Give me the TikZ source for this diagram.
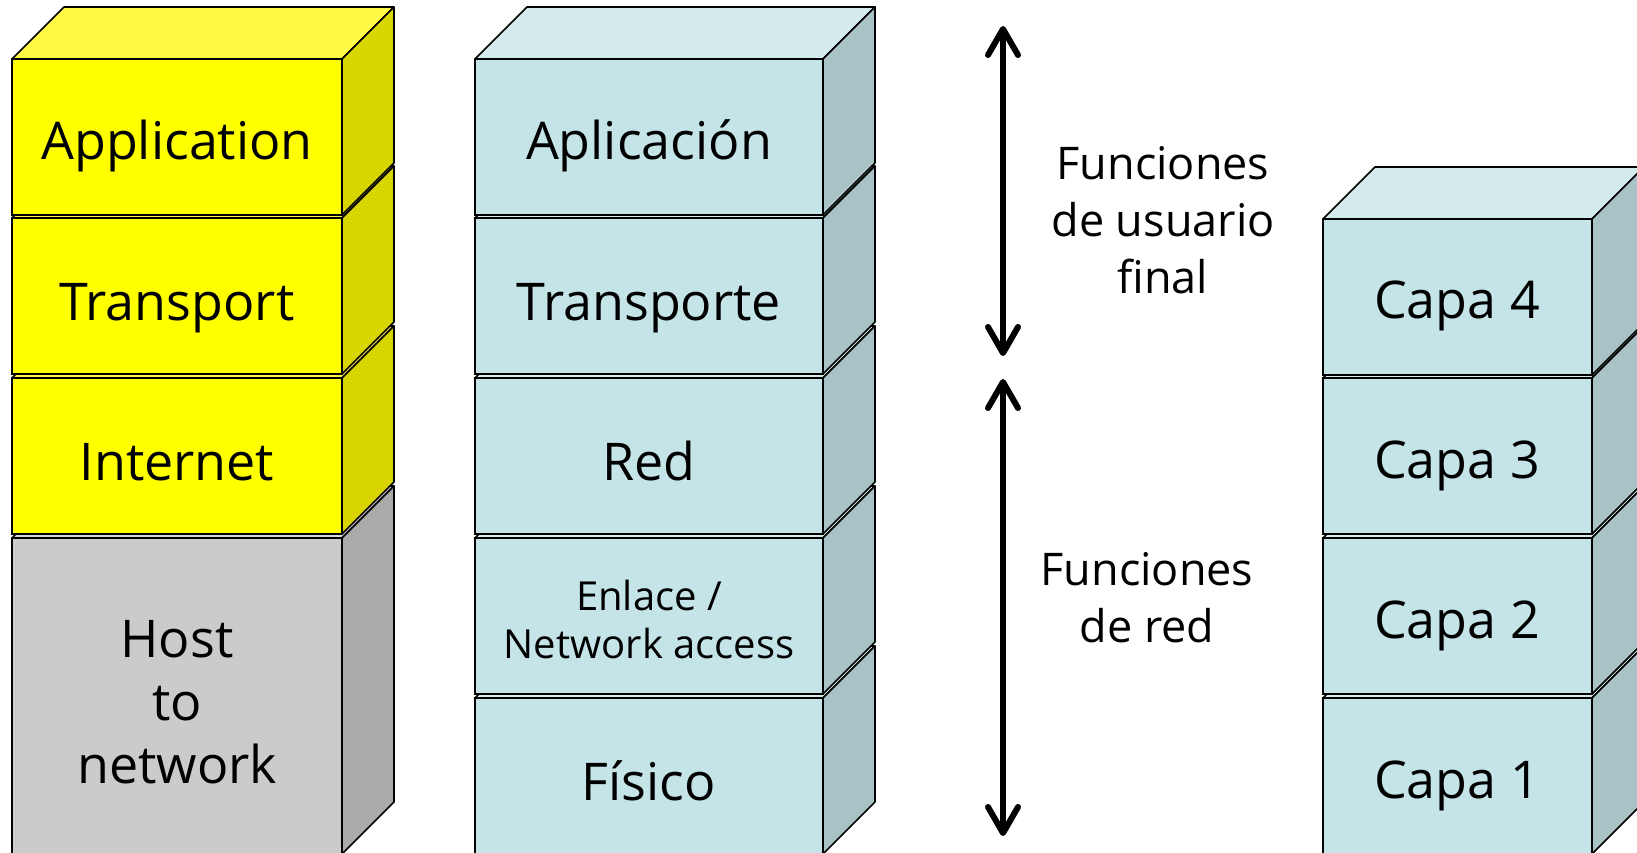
\documentclass[tikz,border=0pt]{standalone}
\usepackage{fontspec}
\setmainfont{Open Sans}
\usetikzlibrary{calc,arrows.meta}
\definecolor{yfront}{HTML}{FFFF00}
\definecolor{ytop}{HTML}{FFF844}
\definecolor{yside}{HTML}{D9D500}
\definecolor{gfront}{HTML}{CBCBCB}
\definecolor{gtop}{HTML}{DADADA}
\definecolor{gside}{HTML}{AAAAAA}
\definecolor{bfront}{HTML}{C4E4E8}
\definecolor{btop}{HTML}{D3EBED}
\definecolor{bside}{HTML}{A8C2C6}
\tikzset{
  face/.style={draw=black, line width=1.6pt, inner sep=0pt, outer sep=0pt, rectangle},
  edge/.style={draw=black, line width=1.6pt, line join=round},
  boxtxt/.style={font=\fontsize{52}{63}\selectfont, inner sep=0pt, outer sep=0pt, align=center},
  smalltxt/.style={font=\fontsize{40}{48}\selectfont, inner sep=0pt, outer sep=0pt, align=center},
  sidetxt/.style={font=\fontsize{45}{57}\selectfont, inner sep=0pt, outer sep=0pt, align=center},
  bigarrow/.style={line width=6pt, {Straight Barb[length=26pt,width=30pt,round]}-{Straight Barb[length=26pt,width=30pt,round]}}
}
\newcommand\layerbox[8]{%
  \node[face, fill=#6, minimum width=#4pt, minimum height=#5pt, anchor=north west] (#1) at (#2,#3) {};
  \draw[edge, fill=#7] (#1.north west) -- ++(52,-52) -- ($(#1.north east)+(52,-52)$) -- (#1.north east) -- cycle;
  \draw[edge, fill=#8] (#1.north east) -- ++(52,-52) -- ($(#1.south east)+(52,-52)$) -- (#1.south east) -- cycle;
}
\begin{document}
\begin{tikzpicture}[x=1pt,y=-1pt]
\useasboundingbox (0,0) rectangle (1637,853);
\fill[white] (0,0) rectangle (1637,853);
\clip (0,0) rectangle (1637,853);
% left column (TCP/IP)
\layerbox{host}{12}{538}{330}{316}{gfront}{gtop}{gside}
\layerbox{inet}{12}{378}{330}{156}{yfront}{ytop}{yside}
\layerbox{trans}{12}{218}{330}{156}{yfront}{ytop}{yside}
\layerbox{app}{12}{59}{330}{156}{yfront}{ytop}{yside}
% middle column
\layerbox{fis}{475}{698}{348}{156}{bfront}{btop}{bside}
\layerbox{enl}{475}{538}{348}{156}{bfront}{btop}{bside}
\layerbox{red}{475}{378}{348}{156}{bfront}{btop}{bside}
\layerbox{tra}{475}{218}{348}{156}{bfront}{btop}{bside}
\layerbox{apl}{475}{59}{348}{156}{bfront}{btop}{bside}
% right column
\layerbox{c1}{1323}{698}{269}{156}{bfront}{btop}{bside}
\layerbox{c2}{1323}{538}{269}{156}{bfront}{btop}{bside}
\layerbox{c3}{1323}{378}{269}{156}{bfront}{btop}{bside}
\layerbox{c4}{1323}{219}{269}{156}{bfront}{btop}{bside}
% texts (base anchor = baseline of the last line)
\node[boxtxt, anchor=base] (tapp) at (177,160) {Application};
\node[boxtxt, anchor=base] (ttrans) at (177,320) {Transport};
\node[boxtxt, anchor=base] (tinet) at (177,480) {Internet};
\node[boxtxt, anchor=base] (thost) at (177,783) {Host\\to\\network};
\node[boxtxt, anchor=base] (tapl) at (649,160) {Aplicación};
\node[boxtxt, anchor=base] (ttra) at (649,320) {Transporte};
\node[boxtxt, anchor=base] (tred) at (649,480) {Red};
\node[smalltxt, anchor=base] (tenl) at (649,658) {Enlace /\\Network access};
\node[boxtxt, anchor=base] (tfis) at (649,800) {Físico};
\node[boxtxt, anchor=base] (tc4) at (1457,318) {Capa 4};
\node[boxtxt, anchor=base] (tc3) at (1457,478) {Capa 3};
\node[boxtxt, anchor=base] (tc2) at (1457,638) {Capa 2};
\node[boxtxt, anchor=base] (tc1) at (1457,798) {Capa 1};
% arrows
\coordinate (a1t) at (1003,26);
\coordinate (a1b) at (1003,356);
\coordinate (a2t) at (1003,379);
\coordinate (a2b) at (1003,836);
\draw[bigarrow] (a1t) -- (a1b);
\draw[bigarrow] (a2t) -- (a2b);
\node[sidetxt, anchor=base] (fuf) at (1163,293) {Funciones\\de usuario\\final};
\node[sidetxt, anchor=base] (fred) at (1147,642) {Funciones\\de red};
\end{tikzpicture}
\end{document}
